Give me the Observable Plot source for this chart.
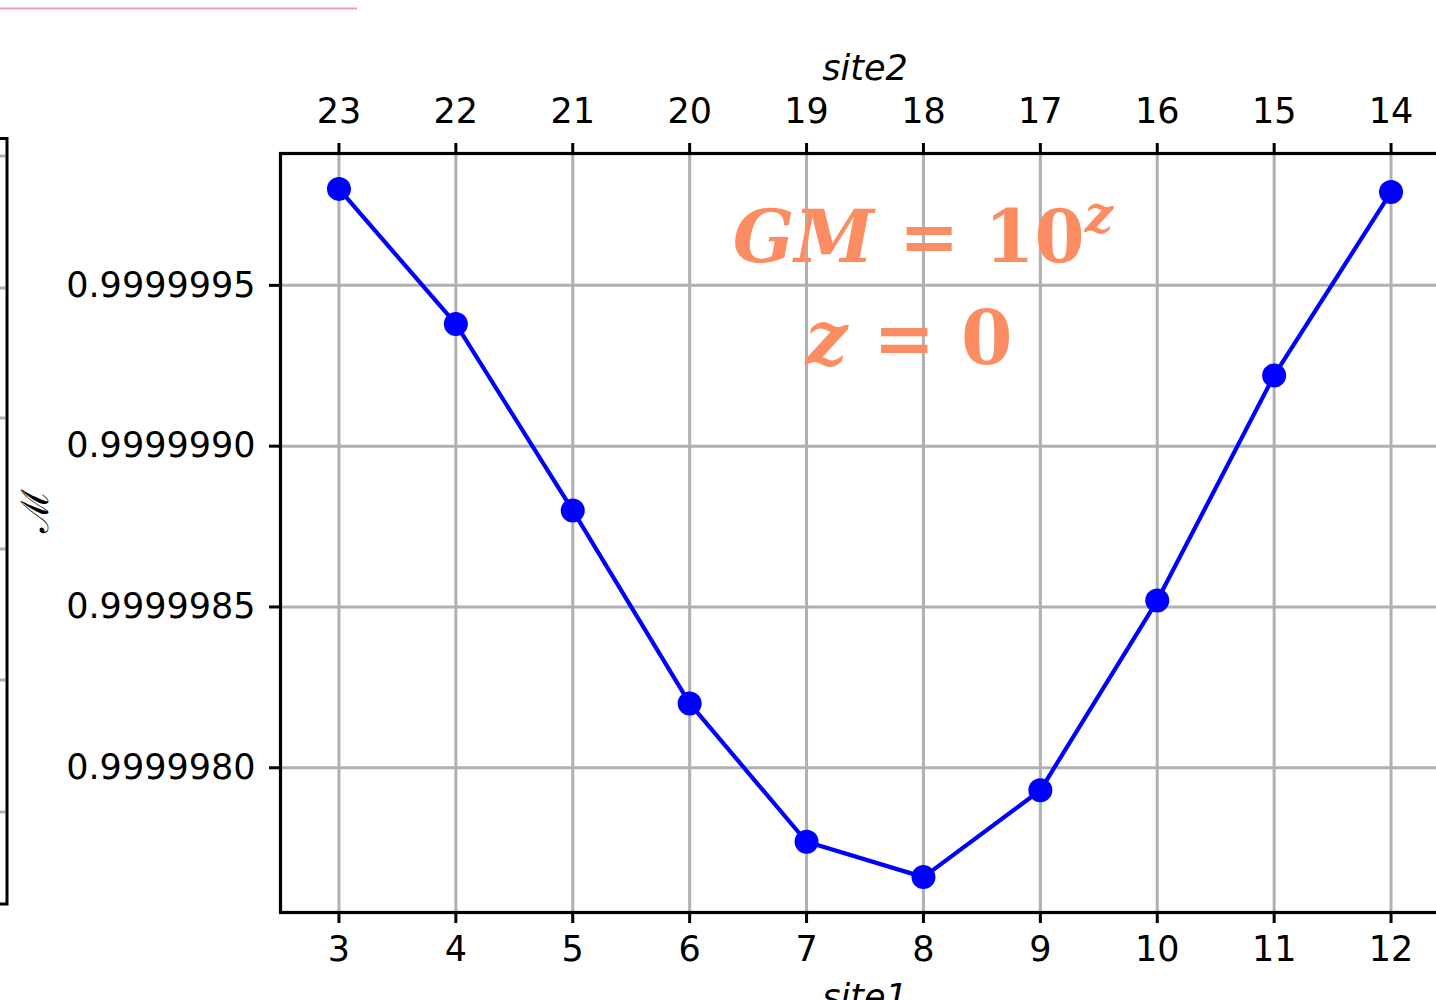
<!DOCTYPE html>
<html>
<head>
<meta charset="utf-8">
<script src="https://cdn.jsdelivr.net/npm/d3@7"></script>
<script src="https://cdn.jsdelivr.net/npm/@observablehq/plot@0.6"></script>
<style>
  html, body { margin: 0; padding: 0; background: #ffffff; overflow: hidden; width: 1436px; height: 1000px; }
  #wrap { position: absolute; left: 0; top: 0; width: 1460px; }
  #wrap svg { max-width: none !important; width: 1460px !important; height: 1020px !important; }
  #wrap g[aria-label$="tick"] { stroke-width: 3px; }
  #frag { position: absolute; left: 0; top: 0; }
</style>
</head>
<body>
<svg id="frag" width="400" height="1000">
  <line x1="0" y1="8.5" x2="357" y2="8.5" stroke="#ef9ab9" stroke-width="2"></line>
  <g stroke="#b0b0b0" stroke-width="3">
    <line x1="0" x2="5.5" y1="156" y2="156"></line>
    <line x1="0" x2="5.5" y1="288" y2="288"></line>
    <line x1="0" x2="5.5" y1="418" y2="418"></line>
    <line x1="0" x2="5.5" y1="549" y2="549"></line>
    <line x1="0" x2="5.5" y1="680" y2="680"></line>
    <line x1="0" x2="5.5" y1="812" y2="812"></line>
  </g>
  <path d="M0,138.5 H7 V904 H0" fill="none" stroke="#000" stroke-width="3"></path>
</svg>
<div id="wrap"></div>
<script>
// ---- data ----
const site1 = [3, 4, 5, 6, 7, 8, 9, 10, 11, 12];
const site2 = [23, 22, 21, 20, 19, 18, 17, 16, 15, 14];
const mValues = [0.99999980, 0.99999938, 0.99999880, 0.99999820, 0.99999777,
                 0.99999766, 0.99999793, 0.99999852, 0.99999922, 0.99999979];
const yTicks = [0.9999980, 0.9999985, 0.9999990, 0.9999995];
const yLabel = "ℳ";
const xLabelBottom = "site1";
const xLabelTop = "site2";

const data = site1.map((s, i) => ({site1: s, site2: site2[i], m: mValues[i]}));

const gridColor = "#b0b0b0";
const fs = 35;
const chart = Plot.plot({
  width: 1460,
  height: 1020,
  marginLeft: 280,
  marginRight: 11,
  marginTop: 153,
  marginBottom: 108,
  style: {fontFamily: "DejaVu Sans", fontSize: fs + "px", color: "black", background: "transparent", overflow: "visible", maxWidth: "none"},
  x: {domain: [2.5, 12.5], label: null},
  y: {domain: [0.99999755, 0.99999991], label: null},
  marks: [
    Plot.gridX(site1, {stroke: gridColor, strokeOpacity: 1, strokeWidth: 3}),
    Plot.gridY(yTicks, {stroke: gridColor, strokeOpacity: 1, strokeWidth: 3}),
    Plot.frame({stroke: "black", strokeWidth: 3.2}),
    Plot.line(data, {x: "site1", y: "m", stroke: "#0000ff", strokeWidth: 4.2}),
    Plot.dot(data, {x: "site1", y: "m", r: 12, fill: "#0000ff"}),
    Plot.axisX(site1, {anchor: "bottom", tickSize: 11, tickPadding: 13, strokeWidth: 3, fontSize: fs, label: null,
                       tickFormat: d => String(d)}),
    Plot.axisX(site1, {anchor: "top", tickSize: 11, tickPadding: 20, strokeWidth: 3, fontSize: fs, label: null,
                       tickFormat: d => String(site2[site1.indexOf(d)])}),
    Plot.axisY(yTicks, {anchor: "left", tickSize: 11, tickPadding: 14, strokeWidth: 3, fontSize: fs, label: null,
                        tickFormat: d => d.toFixed(7)}),
    Plot.text([xLabelTop], {frameAnchor: "top", dy: -74, lineAnchor: "bottom", fontStyle: "italic", fontSize: fs, fill: "black"}),
    Plot.text([xLabelBottom], {frameAnchor: "bottom", dy: 72, lineAnchor: "top", fontStyle: "italic", fontSize: fs, fill: "black"}),
    Plot.text([yLabel], {frameAnchor: "left", dx: -245, rotate: -90, fontSize: 38, fill: "black", fontFamily: "DejaVu Serif"})
  ]
});
document.getElementById("wrap").appendChild(chart);

// annotation
const xs = chart.scale("x");
const cx = xs.apply(8);
const svg = d3.select(chart);
const orange = "#fc8d62";
const t1 = svg.append("text")
  .attr("x", cx).attr("y", 262)
  .attr("text-anchor", "middle")
  .attr("fill", orange)
  .attr("font-family", "DejaVu Serif")
  .attr("font-weight", "bold")
  .attr("font-size", 72)
  .style("white-space", "pre");
t1.append("tspan").attr("font-style", "italic").text("GM");
t1.append("tspan").text(" = 10");
t1.append("tspan").attr("font-style", "italic").attr("font-size", 50).attr("dy", -30).text("z");

const t2 = svg.append("text")
  .attr("x", cx - 14).attr("y", 364)
  .attr("text-anchor", "middle")
  .attr("fill", orange)
  .attr("font-family", "DejaVu Serif")
  .attr("font-weight", "bold")
  .attr("font-size", 74)
  .style("white-space", "pre");
t2.append("tspan").attr("font-style", "italic").text("z");
t2.append("tspan").text(" = 0");
</script>
</body>
</html>
